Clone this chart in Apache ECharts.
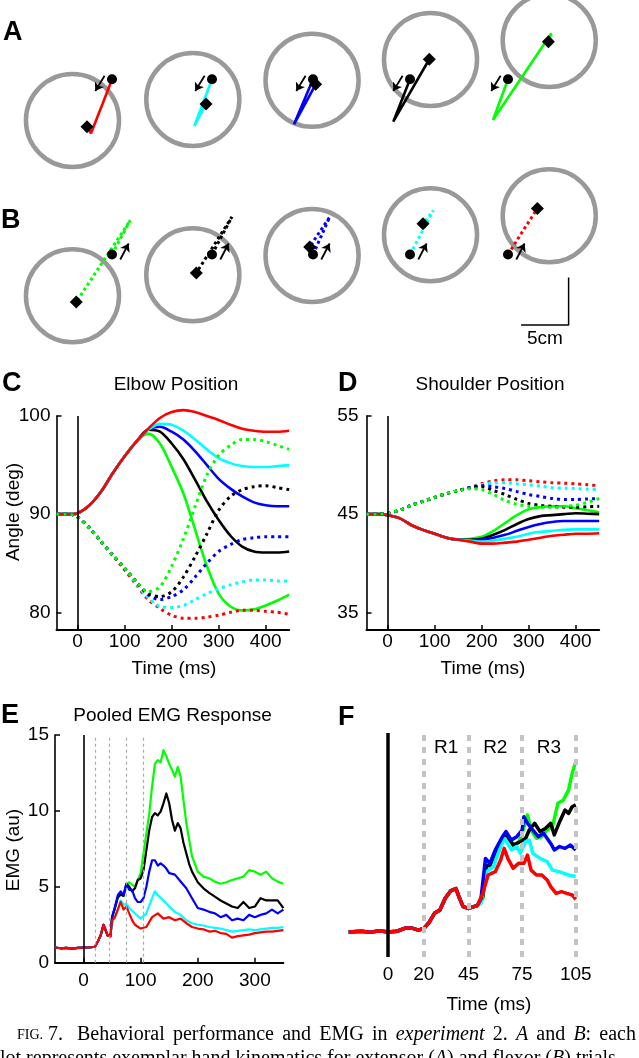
<!DOCTYPE html>
<html>
<head>
<meta charset="utf-8">
<script src="https://cdn.jsdelivr.net/npm/echarts@6/dist/echarts.min.js"></script>
<style>
  html, body { margin: 0; padding: 0; background: #fff; }
  #main { width: 639px; height: 1058px; }
</style>
</head>
<body>
<div id="main"></div>
<script>
// ---------- A / B : hand paths, cm, relative to the start position ----------
const targetCenters = [[-4.16, -4.34], [-2.02, -2.13], [-0.1, -0.1], [2.16, 2.08], [4.34, 4.08]];
const targetRadiusCm = 4.9;
// extensor trials (row A, left to right: red, cyan, blue, black, green)
const extPaths = [
  [[0, 0], [-1.0, -2.6], [-2.21, -5.68], [-2.63, -4.99]],
  [[0, 0], [-1.86, -4.92], [-0.63, -2.6]],
  [[0, 0], [-2.0, -4.74], [0.28, -0.53]],
  [[0, 0], [-1.76, -4.46], [2.03, 2.11]],
  [[0, 0], [-1.58, -4.28], [4.57, 4.84], [4.25, 3.96]]
];
// flexor trials (row B, left to right: green, black, blue, cyan, red)
const flxPaths = [
  [[0, 0], [1.93, 3.61], [-3.76, -4.99]],
  [[0, 0], [2.1, 3.96], [-1.65, -1.94]],
  [[0, 0], [1.76, 3.96], [-0.35, 0.8]],
  [[0, 0], [2.46, 4.63], [1.37, 3.23]],
  [[0, 0], [1.58, 2.5], [3.09, 4.84]]
];
const extArrow = [[-0.78, 0.38], [-1.76, -1.23]];
const flxArrow = [[0.87, -0.53], [1.75, 1.16]];
const scaleBarCm = 5;

// ---------- C / D : joint angles (deg) ----------
const jointTime = [-45, -20, 0, 25, 50, 75, 100, 125, 150, 175, 200, 225, 250, 275, 300, 325, 350, 375, 400, 425, 450];
const elbowExtRed   = [90, 90, 90.1, 90.9, 92.3, 94.2, 95.9, 97.4, 98.7, 99.8, 100.4, 100.6, 100.4, 100.0, 99.6, 99.1, 98.7, 98.5, 98.4, 98.4, 98.5];
const elbowExtCyan  = [90, 90, 90.1, 90.9, 92.3, 94.2, 95.9, 97.4, 98.6, 99.2, 99.1, 98.5, 97.6, 96.6, 95.7, 95.2, 94.9, 94.8, 94.8, 94.9, 95.0];
const elbowExtBlue  = [90, 90, 90.1, 90.9, 92.3, 94.2, 95.9, 97.4, 98.6, 98.9, 98.4, 97.6, 96.4, 95.0, 93.6, 92.6, 91.8, 91.2, 90.9, 90.8, 90.8];
const elbowExtBlack = [90, 90, 90.1, 90.9, 92.3, 94.2, 95.9, 97.4, 98.6, 98.4, 97.2, 95.6, 93.5, 91.3, 89.4, 87.8, 86.7, 86.2, 86.1, 86.1, 86.2];
const elbowExtGreen = [90, 90, 90.1, 90.9, 92.3, 94.2, 95.9, 97.4, 98.2, 97.2, 94.8, 92.1, 88.4, 84.7, 81.9, 80.6, 80.2, 80.3, 80.7, 81.2, 81.8];
const elbowFlxRed   = [90, 90, 89.7, 88.6, 87.2, 85.8, 84.3, 82.8, 81.3, 80.4, 79.7, 79.4, 79.4, 79.5, 79.7, 80.0, 80.2, 80.2, 80.1, 80.0, 79.8];
const elbowFlxCyan  = [90, 90, 89.7, 88.6, 87.2, 85.8, 84.5, 82.9, 81.5, 80.6, 80.5, 80.7, 81.3, 81.9, 82.4, 82.8, 83.1, 83.3, 83.3, 83.2, 83.2];
const elbowFlxBlue  = [90, 90, 89.7, 88.6, 87.2, 85.8, 84.5, 83.1, 81.8, 81.3, 81.6, 82.3, 83.6, 85.0, 86.2, 86.9, 87.4, 87.6, 87.7, 87.7, 87.7];
const elbowFlxBlack = [90, 90, 89.7, 88.6, 87.2, 85.8, 84.5, 83.1, 81.9, 81.6, 82.1, 83.6, 85.7, 88.0, 90.4, 91.8, 92.5, 92.8, 92.9, 92.7, 92.5];
const elbowFlxGreen = [90, 90, 89.7, 88.6, 87.2, 85.8, 84.5, 83.1, 82.1, 82.6, 84.7, 87.5, 90.8, 94.0, 96.0, 97.0, 97.6, 97.6, 97.4, 97.0, 96.6];

const shoulderExtRed   = [45, 45, 44.9, 44.6, 43.9, 43.4, 43.0, 42.6, 42.4, 42.2, 42.0, 42.0, 42.1, 42.2, 42.4, 42.6, 42.8, 42.9, 43.0, 43.0, 43.05];
const shoulderExtCyan  = [45, 45, 44.9, 44.6, 43.9, 43.4, 43.0, 42.6, 42.4, 42.3, 42.2, 42.3, 42.5, 42.7, 43.0, 43.2, 43.3, 43.4, 43.45, 43.45, 43.45];
const shoulderExtBlue  = [45, 45, 44.9, 44.6, 43.9, 43.4, 43.0, 42.6, 42.4, 42.35, 42.4, 42.6, 42.9, 43.3, 43.7, 44.0, 44.2, 44.3, 44.3, 44.3, 44.3];
const shoulderExtBlack = [45, 45, 44.9, 44.6, 43.9, 43.4, 43.0, 42.6, 42.4, 42.4, 42.5, 42.9, 43.4, 44.0, 44.5, 44.8, 44.9, 45.0, 45.1, 45.05, 45.0];
const shoulderExtGreen = [45, 45, 44.9, 44.6, 43.9, 43.4, 43.0, 42.6, 42.4, 42.5, 42.7, 43.3, 44.1, 44.9, 45.5, 45.7, 45.8, 45.8, 45.6, 45.4, 45.2];
const shoulderFlxRed   = [45, 45, 45.1, 45.4, 45.9, 46.3, 46.7, 47.1, 47.4, 47.7, 48.1, 48.4, 48.5, 48.5, 48.4, 48.3, 48.2, 48.15, 48.1, 48.0, 47.9];
const shoulderFlxCyan  = [45, 45, 45.1, 45.4, 45.9, 46.3, 46.7, 47.1, 47.4, 47.7, 48.0, 48.2, 48.2, 48.1, 48.0, 47.85, 47.7, 47.65, 47.6, 47.55, 47.5];
const shoulderFlxBlue  = [45, 45, 45.1, 45.4, 45.9, 46.3, 46.7, 47.1, 47.4, 47.7, 47.9, 47.8, 47.6, 47.3, 47.0, 46.8, 46.6, 46.5, 46.5, 46.55, 46.6];
const shoulderFlxBlack = [45, 45, 45.1, 45.4, 45.9, 46.3, 46.7, 47.1, 47.4, 47.7, 47.8, 47.4, 47.0, 46.5, 46.1, 45.9, 45.8, 45.7, 45.7, 45.75, 45.8];
const shoulderFlxGreen = [45, 45, 45.1, 45.4, 45.9, 46.3, 46.7, 47.1, 47.4, 47.6, 47.5, 47.0, 46.4, 46.0, 45.8, 45.7, 45.7, 45.8, 45.9, 46.2, 46.6];

// ---------- E : pooled EMG, [ms, au] ----------
const emgOnset = [[-50, 1.0], [-40, 0.95], [-30, 0.98], [-20, 0.93], [-10, 0.98], [0, 1.0], [10, 1.0], [20, 1.05],
  [25, 1.4], [30, 1.8], [35, 2.5], [38, 2.45], [42, 1.8], [47, 1.75]];
const emgRed = [[50, 2.8], [55, 3.0], [60, 3.5], [65, 4.0], [70, 3.5], [75, 3.7], [80, 3.25], [85, 2.8], [90, 2.5], [100, 2.25],
  [110, 2.35], [120, 3.0], [130, 3.25], [140, 2.9], [150, 3.0], [160, 2.8], [170, 2.9], [180, 2.6], [190, 2.35], [200, 2.25],
  [210, 2.2], [220, 2.05], [230, 2.1], [240, 1.95], [250, 1.9], [260, 1.65], [270, 1.75], [280, 1.8], [290, 1.85], [300, 1.95],
  [310, 2.0], [320, 2.05], [330, 2.05], [340, 2.1], [350, 2.15]];
const emgCyan = [[50, 2.6], [55, 3.0], [60, 3.5], [65, 4.1], [70, 3.8], [75, 3.9], [80, 3.6], [90, 3.25], [100, 2.9], [110, 3.25],
  [120, 4.25], [125, 4.7], [130, 4.45], [140, 4.1], [150, 3.7], [160, 3.35], [170, 3.15], [180, 2.8], [190, 2.6], [200, 2.5],
  [210, 2.45], [220, 2.35], [230, 2.3], [240, 2.25], [250, 2.15], [260, 2.05], [270, 2.1], [280, 2.15], [290, 2.2], [300, 2.15],
  [310, 2.2], [320, 2.25], [330, 2.3], [340, 2.3], [350, 2.35]];
const emgBlue = [[50, 3.0], [55, 3.7], [60, 4.45], [65, 4.7], [70, 4.45], [75, 5.2], [80, 4.8], [85, 4.8], [90, 4.25], [95, 4.0],
  [100, 4.0], [105, 4.25], [110, 5.0], [115, 6.0], [120, 6.75], [125, 6.75], [130, 6.4], [135, 6.55], [140, 6.4], [145, 6.2],
  [150, 5.9], [160, 5.8], [170, 5.35], [180, 4.9], [190, 4.25], [200, 3.6], [210, 3.5], [220, 3.35], [230, 3.25], [240, 3.0],
  [250, 3.15], [260, 2.8], [270, 2.9], [280, 2.8], [290, 3.15], [300, 3.0], [310, 3.15], [320, 3.25], [330, 3.5], [340, 3.25], [350, 3.5]];
const emgBlack = [[50, 3.0], [55, 3.6], [60, 4.3], [65, 4.5], [70, 4.4], [75, 5.2], [80, 5.0], [85, 4.7], [90, 4.9], [95, 5.45],
  [100, 5.55], [105, 6.1], [110, 7.4], [115, 8.7], [120, 9.6], [125, 9.85], [130, 9.7], [135, 9.95], [140, 10.5], [145, 11.15],
  [150, 10.5], [155, 9.4], [160, 8.7], [165, 9.2], [170, 8.85], [175, 7.9], [180, 7.2], [185, 6.5], [190, 6.0], [200, 5.3],
  [210, 4.9], [220, 4.6], [230, 4.35], [240, 4.1], [250, 3.9], [260, 3.7], [270, 3.6], [280, 4.0], [290, 3.6], [300, 3.7],
  [310, 4.25], [320, 4.1], [330, 4.1], [340, 4.1], [350, 3.6]];
const emgGreen = [[50, 3.0], [55, 3.6], [60, 4.3], [65, 4.5], [70, 4.4], [75, 5.1], [80, 5.3], [90, 5.0], [100, 5.9], [105, 7.2],
  [110, 8.5], [115, 9.8], [120, 11.6], [125, 13.1], [130, 13.35], [135, 13.2], [140, 14.0], [145, 13.6], [150, 13.1], [155, 12.7],
  [160, 12.25], [165, 12.9], [170, 12.25], [175, 10.7], [180, 9.2], [185, 8.1], [190, 7.0], [200, 6.0], [210, 5.67], [220, 5.56],
  [230, 5.34], [240, 5.2], [250, 5.3], [260, 5.45], [270, 5.56], [280, 5.67], [290, 6.1], [300, 6.0], [310, 5.8], [320, 6.0],
  [330, 5.56], [340, 5.34], [350, 5.2]];
const emgEpochs = [20, 45, 75, 105];

// ---------- F : early EMG, [ms, au] ----------
const earlyOnset = [[-22, 1.12], [-15, 1.15], [-10, 1.1], [-5, 1.17], [0, 1.12], [5, 1.15], [10, 1.3], [13, 1.3], [17, 1.2],
  [20, 1.27], [23, 1.55], [26, 1.95], [29, 2.1], [32, 2.62], [35, 2.95], [38, 3.05], [40, 2.62], [42, 2.25], [45, 2.17],
  [48, 2.25], [50, 2.3]];
const earlyRed = [[53, 2.84], [56, 3.66], [60, 3.81], [63, 4.33], [65, 4.85], [67, 4.4], [70, 3.96], [73, 4.18], [76, 4.18],
  [78, 4.55], [80, 3.88], [83, 3.66], [86, 3.66], [89, 3.44], [91, 3.14], [94, 2.84], [97, 2.92], [100, 2.84], [103, 2.77], [105, 2.57]];
const earlyCyan = [[52, 2.4], [55, 3.8], [59, 4.03], [63, 4.93], [65, 5.3], [69, 4.78], [72, 4.93], [74, 4.63], [77, 5.15],
  [79, 5.22], [81, 4.63], [85, 4.4], [89, 4.26], [92, 3.88], [96, 3.8], [101, 3.66], [105, 3.59]];
const earlyBlue = [[52, 2.6], [54.5, 4.4], [57, 4.18], [60, 4.78], [64, 5.37], [66, 5.6], [69, 5.22], [72, 5.37], [75, 5.67],
  [76, 6.26], [78, 5.97], [81, 5.67], [84, 5.37], [87, 5.52], [91, 5.07], [93, 4.78], [96, 4.93], [99, 4.85], [102, 5.0], [105, 4.78]];
const earlyBlack = [[53, 2.7], [55, 4.1], [57, 4.1], [60, 4.7], [64, 5.3], [66, 5.5], [70, 5.0], [74, 5.15], [77, 5.3], [79, 5.67],
  [82, 5.97], [85, 5.6], [88, 5.74], [91, 5.97], [93, 5.45], [96, 6.04], [99, 6.56], [101, 6.41], [103, 6.71], [105, 6.79]];
const earlyGreen = [[53, 2.6], [55, 4.0], [57, 4.05], [60, 4.6], [64, 5.2], [66, 5.45], [70, 5.0], [73, 5.1], [75, 5.52],
  [78, 6.34], [80, 5.67], [83, 5.3], [86, 5.37], [89, 5.67], [92, 5.82], [95, 6.86], [98, 7.0], [101, 7.46], [103, 8.2], [105, 8.72]];
const regionNames = ['R1', 'R2', 'R3'];

// ---------- caption words: [text, italic] parts ----------
const captionLine1 = [
  [['Behavioral', 0]], [['performance', 0]], [['and', 0]], [['EMG', 0]], [['in', 0]], [['experiment', 1]],
  [['2.', 0]], [['A', 1]], [['and', 0]], [['B', 1], [':', 0]], [['each', 0]]
];
const captionLine2 = 'plot represents exemplar hand kinematics for extensor ({i|A}) and flexor ({i|B}) trials';

// ---------- styles / layout ----------
const RED = '#ff0000', CYAN = '#00ffff', BLUE = '#0000ff', BLACK = '#000000', GREEN = '#00ff00';
const SANS = 'Liberation Sans';
const SERIF = 'Liberation Serif';
const pxPerCm = 9.5;
const kinHalf = 8; // cm shown each side of the start point
const startX = [112, 212, 313, 410, 508];
const rowY = [79.3, 254.5];

const grids = [];
const xAxes = [];
const yAxes = [];
const series = [];

// small kinematic plots
function addKinPlot(row, i, path, color, arrow) {
  const g = grids.length;
  grids.push({
    left: startX[i] - kinHalf * pxPerCm, top: rowY[row] - kinHalf * pxPerCm,
    width: 2 * kinHalf * pxPerCm, height: 2 * kinHalf * pxPerCm
  });
  xAxes.push({ gridIndex: g, type: 'value', min: -kinHalf, max: kinHalf, show: false });
  yAxes.push({ gridIndex: g, type: 'value', min: -kinHalf, max: kinHalf, show: false });
  const ax = { xAxisIndex: g, yAxisIndex: g, silent: true };
  series.push(Object.assign({
    type: 'scatter', data: [targetCenters[i]], symbol: 'circle', clip: false,
    symbolSize: 2 * targetRadiusCm * pxPerCm,
    itemStyle: { color: 'rgba(0,0,0,0)', borderColor: '#999999', borderWidth: 4.5, opacity: 1 }, z: 1
  }, ax));
  series.push(Object.assign({
    type: 'line', data: path, symbol: 'none', clip: false,
    lineStyle: { color: color, width: row === 0 ? 2.6 : 3, type: row === 0 ? 'solid' : [3, 3], cap: 'butt' }, z: 2
  }, ax));
  series.push(Object.assign({
    type: 'scatter', data: [path[0]], symbol: 'circle', symbolSize: 10, clip: false,
    itemStyle: { color: '#000', opacity: 1 }, z: 3
  }, ax));
  series.push(Object.assign({
    type: 'scatter', data: [path[path.length - 1]], symbol: 'diamond', symbolSize: 13, clip: false,
    itemStyle: { color: '#000', opacity: 1 }, z: 3
  }, ax));
  series.push(Object.assign({
    type: 'lines', coordinateSystem: 'cartesian2d', data: [{ coords: arrow }],
    symbol: ['none', 'arrow'], symbolSize: 8, lineStyle: { color: '#000', width: 1.8, opacity: 1 }, z: 3
  }, ax));
  return g;
}

const extColors = [RED, CYAN, BLUE, BLACK, GREEN];
const flxColors = [GREEN, BLACK, BLUE, CYAN, RED];
extPaths.forEach((p, i) => addKinPlot(0, i, p, extColors[i], extArrow));
let lastB = 0;
flxPaths.forEach((p, i) => { lastB = addKinPlot(1, i, p, flxColors[i], flxArrow); });

// scale bar in the last B plot
const sbCorner = [6.38, -7.42];
series.push({
  type: 'line', xAxisIndex: lastB, yAxisIndex: lastB, symbol: 'none', silent: true, clip: false,
  data: [[sbCorner[0] - scaleBarCm, sbCorner[1]], sbCorner, [sbCorner[0], sbCorner[1] + scaleBarCm]],
  lineStyle: { color: '#000', width: 1.5 }
});

// axis helpers
const labelFont = { color: '#000', fontSize: 19, fontFamily: SANS };
function valueXAxis(g, min, max, ticks, margin) {
  return {
    gridIndex: g, type: 'value', min: min, max: max,
    axisLine: { show: true, lineStyle: { color: '#000', width: 2 } },
    axisTick: { show: true, inside: true, length: 5, customValues: ticks, lineStyle: { color: '#000', width: 1.5 } },
    axisLabel: Object.assign({ customValues: ticks, margin: margin }, labelFont),
    splitLine: { show: false }
  };
}
function valueYAxis(g, min, max, ticks, margin) {
  return {
    gridIndex: g, type: 'value', min: min, max: max,
    axisLine: { show: true, onZero: false, lineStyle: { color: '#000', width: 1.6 } },
    axisTick: { show: true, inside: true, length: 5, customValues: ticks, lineStyle: { color: '#000', width: 1.5 } },
    axisLabel: Object.assign({ customValues: ticks, margin: margin }, labelFont),
    splitLine: { show: false }
  };
}
const zeroLine = (w) => ({
  silent: true, symbol: ['none', 'none'], label: { show: false }, animation: false,
  lineStyle: { color: '#000', width: w, type: 'solid' }, data: [{ xAxis: 0 }]
});

// C : elbow
const gC = grids.length;
grids.push({ left: 56.5, top: 416, width: 232.7, height: 214 });
xAxes.push(valueXAxis(gC, -45, 450, [0, 100, 200, 300, 400], 2));
yAxes.push(valueYAxis(gC, 78.2, 100, [80, 90, 100], 6));
// D : shoulder
const gD = grids.length;
grids.push({ left: 366.5, top: 416, width: 232.7, height: 214 });
xAxes.push(valueXAxis(gD, -45, 450, [0, 100, 200, 300, 400], 2));
yAxes.push(valueYAxis(gD, 33.2, 55, [35, 45, 55], 8));

function jointSeries(g, vals, color, dotted) {
  return {
    type: 'line', xAxisIndex: g, yAxisIndex: g, silent: true, symbol: 'none', clip: false,
    data: jointTime.map((t, k) => [t, vals[k]]), smooth: 0.3,
    lineStyle: { color: color, width: dotted ? 3 : 2.6, type: dotted ? [3, 4] : 'solid', cap: 'butt' },
    z: dotted ? 4 : 3
  };
}
[[elbowExtGreen, GREEN], [elbowExtBlack, BLACK], [elbowExtBlue, BLUE], [elbowExtCyan, CYAN], [elbowExtRed, RED]]
  .forEach(([v, c]) => series.push(jointSeries(gC, v, c, false)));
[[elbowFlxRed, RED], [elbowFlxCyan, CYAN], [elbowFlxBlue, BLUE], [elbowFlxBlack, BLACK], [elbowFlxGreen, GREEN]]
  .forEach(([v, c]) => series.push(jointSeries(gC, v, c, true)));
[[shoulderExtGreen, GREEN], [shoulderExtBlack, BLACK], [shoulderExtBlue, BLUE], [shoulderExtCyan, CYAN], [shoulderExtRed, RED]]
  .forEach(([v, c]) => series.push(jointSeries(gD, v, c, false)));
[[shoulderFlxRed, RED], [shoulderFlxCyan, CYAN], [shoulderFlxBlue, BLUE], [shoulderFlxBlack, BLACK], [shoulderFlxGreen, GREEN]]
  .forEach(([v, c]) => series.push(jointSeries(gD, v, c, true)));
series.push({ type: 'line', xAxisIndex: gC, yAxisIndex: gC, data: [], markLine: zeroLine(1.6) });
series.push({ type: 'line', xAxisIndex: gD, yAxisIndex: gD, data: [], markLine: zeroLine(1.6) });

// E : pooled EMG
const gE = grids.length;
grids.push({ left: 55, top: 735, width: 228.4, height: 227.7 });
xAxes.push(valueXAxis(gE, -50, 350, [0, 100, 200, 300], 9));
yAxes.push(valueYAxis(gE, 0, 15, [0, 5, 10, 15], 6));
function emgSeries(g, pts, color, w) {
  return {
    type: 'line', xAxisIndex: g, yAxisIndex: g, silent: true, symbol: 'none', data: pts,
    lineStyle: { color: color, width: w, join: 'round' }, z: 3
  };
}
[[emgGreen, GREEN], [emgBlack, BLACK], [emgCyan, CYAN], [emgBlue, BLUE], [emgRed, RED]]
  .forEach(([v, c]) => series.push(emgSeries(gE, emgOnset.concat(v), c, 2.2)));
series.push({
  type: 'line', xAxisIndex: gE, yAxisIndex: gE, data: [],
  markLine: {
    silent: true, symbol: ['none', 'none'], label: { show: false }, animation: false,
    lineStyle: { color: '#aaaaaa', width: 1.2, type: [3, 3] }, data: emgEpochs.map(t => ({ xAxis: t }))
  }
});
series.push({ type: 'line', xAxisIndex: gE, yAxisIndex: gE, data: [], markLine: zeroLine(1.6) });

// F : early EMG
const gF = grids.length;
grids.push({ left: 343.3, top: 733, width: 241.4, height: 224 });
xAxes.push({
  gridIndex: gF, type: 'value', min: -25, max: 110,
  axisLine: { show: false }, axisTick: { show: false }, splitLine: { show: false },
  axisLabel: Object.assign({ customValues: [0].concat(emgEpochs), margin: 8 }, labelFont)
});
yAxes.push({ gridIndex: gF, type: 'value', min: 0, max: 10, show: false });
series.push({
  type: 'line', xAxisIndex: gF, yAxisIndex: gF, data: [],
  markLine: {
    silent: true, symbol: ['none', 'none'], label: { show: false }, animation: false,
    lineStyle: { color: '#c4c4c4', width: 4, type: [6, 6] }, data: emgEpochs.map(t => ({ xAxis: t }))
  },
  markArea: {
    silent: true, itemStyle: { color: 'rgba(0,0,0,0)' },
    label: { show: true, position: 'insideTop', distance: 5, color: '#000', fontSize: 19, fontFamily: SANS },
    data: regionNames.map((n, k) => [{ name: n, xAxis: emgEpochs[k] }, { xAxis: emgEpochs[k + 1] }])
  }
});
[[earlyGreen, GREEN], [earlyBlack, BLACK], [earlyCyan, CYAN], [earlyBlue, BLUE], [earlyRed, RED]]
  .forEach(([v, c]) => series.push(emgSeries(gF, earlyOnset.concat(v), c, 3.5)));
series.push({ type: 'line', xAxisIndex: gF, yAxisIndex: gF, data: [], markLine: zeroLine(3.5) });

// texts
function txt(x, y, text, font, extra) {
  return {
    type: 'text', x: x, y: y, silent: true,
    style: Object.assign({ text: text, font: font, fill: '#000', textAlign: 'left', textVerticalAlign: 'middle' }, extra || {})
  };
}
const letterFont = 'bold 27px "' + SANS + '"';
const f19 = '19px "' + SANS + '"';
const capSize = 20;
const italicRich = { i: { fontStyle: 'italic', fontSize: capSize, fontFamily: SERIF } };
const graphic = [
  txt(3, 33, 'A', letterFont),
  txt(1, 220.5, 'B', letterFont),
  txt(2, 383.5, 'C', letterFont),
  txt(338, 383.5, 'D', letterFont),
  txt(1, 715.5, 'E', letterFont),
  txt(338, 717.5, 'F', letterFont),
  txt(176, 385, 'Elbow Position', f19, { textAlign: 'center' }),
  txt(490, 385, 'Shoulder Position', f19, { textAlign: 'center' }),
  txt(172.5, 716, 'Pooled EMG Response', f19, { textAlign: 'center' }),
  txt(174, 669, 'Time (ms)', f19, { textAlign: 'center' }),
  txt(483, 669, 'Time (ms)', f19, { textAlign: 'center' }),
  txt(489, 1004.5, 'Time (ms)', f19, { textAlign: 'center' }),
  txt(545, 338.5, '5cm', f19, { textAlign: 'center' }),
  Object.assign(txt(13.5, 512, 'Angle (deg)', f19, { textAlign: 'center' }), { rotation: Math.PI / 2 }),
  Object.assign(txt(13.5, 850, 'EMG (au)', f19, { textAlign: 'center' }), { rotation: Math.PI / 2 }),
  {
    type: 'text', x: 17, y: 1035, silent: true,
    style: {
      text: '{sc|FIG.} 7.', fontSize: capSize, fontFamily: SERIF, fill: '#000', textVerticalAlign: 'middle',
      rich: { sc: { fontSize: 14, fontFamily: SERIF } }
    }
  },
  {
    type: 'text', x: -10, y: 1059, silent: true,
    style: {
      text: captionLine2, fontSize: capSize, fontFamily: SERIF, fill: '#000', textVerticalAlign: 'middle', rich: italicRich
    }
  }
];

// justified first caption line (word by word)
(function () {
  const ctx = document.createElement('canvas').getContext('2d');
  const x0 = 77, x1 = 636;
  const widths = captionLine1.map(parts => parts.reduce((s, p) => {
    ctx.font = (p[1] ? 'italic ' : '') + capSize + 'px "' + SERIF + '"';
    return s + ctx.measureText(p[0]).width;
  }, 0));
  const total = widths.reduce((a, b) => a + b, 0);
  const gap = (x1 - x0 - total) / (captionLine1.length - 1);
  let x = x0;
  captionLine1.forEach((parts, k) => {
    graphic.push({
      type: 'text', x: x, y: 1035, silent: true,
      style: {
        text: parts.map(p => (p[1] ? '{i|' + p[0] + '}' : p[0])).join(''),
        fontSize: capSize, fontFamily: SERIF, fill: '#000', textVerticalAlign: 'middle', rich: italicRich
      }
    });
    x += widths[k] + gap;
  });
})();

const chart = echarts.init(document.getElementById('main'), null, { renderer: 'canvas' });
chart.setOption({
  animation: false,
  backgroundColor: '#ffffff',
  grid: grids,
  xAxis: xAxes,
  yAxis: yAxes,
  series: series,
  graphic: graphic
});
</script>
</body>
</html>
